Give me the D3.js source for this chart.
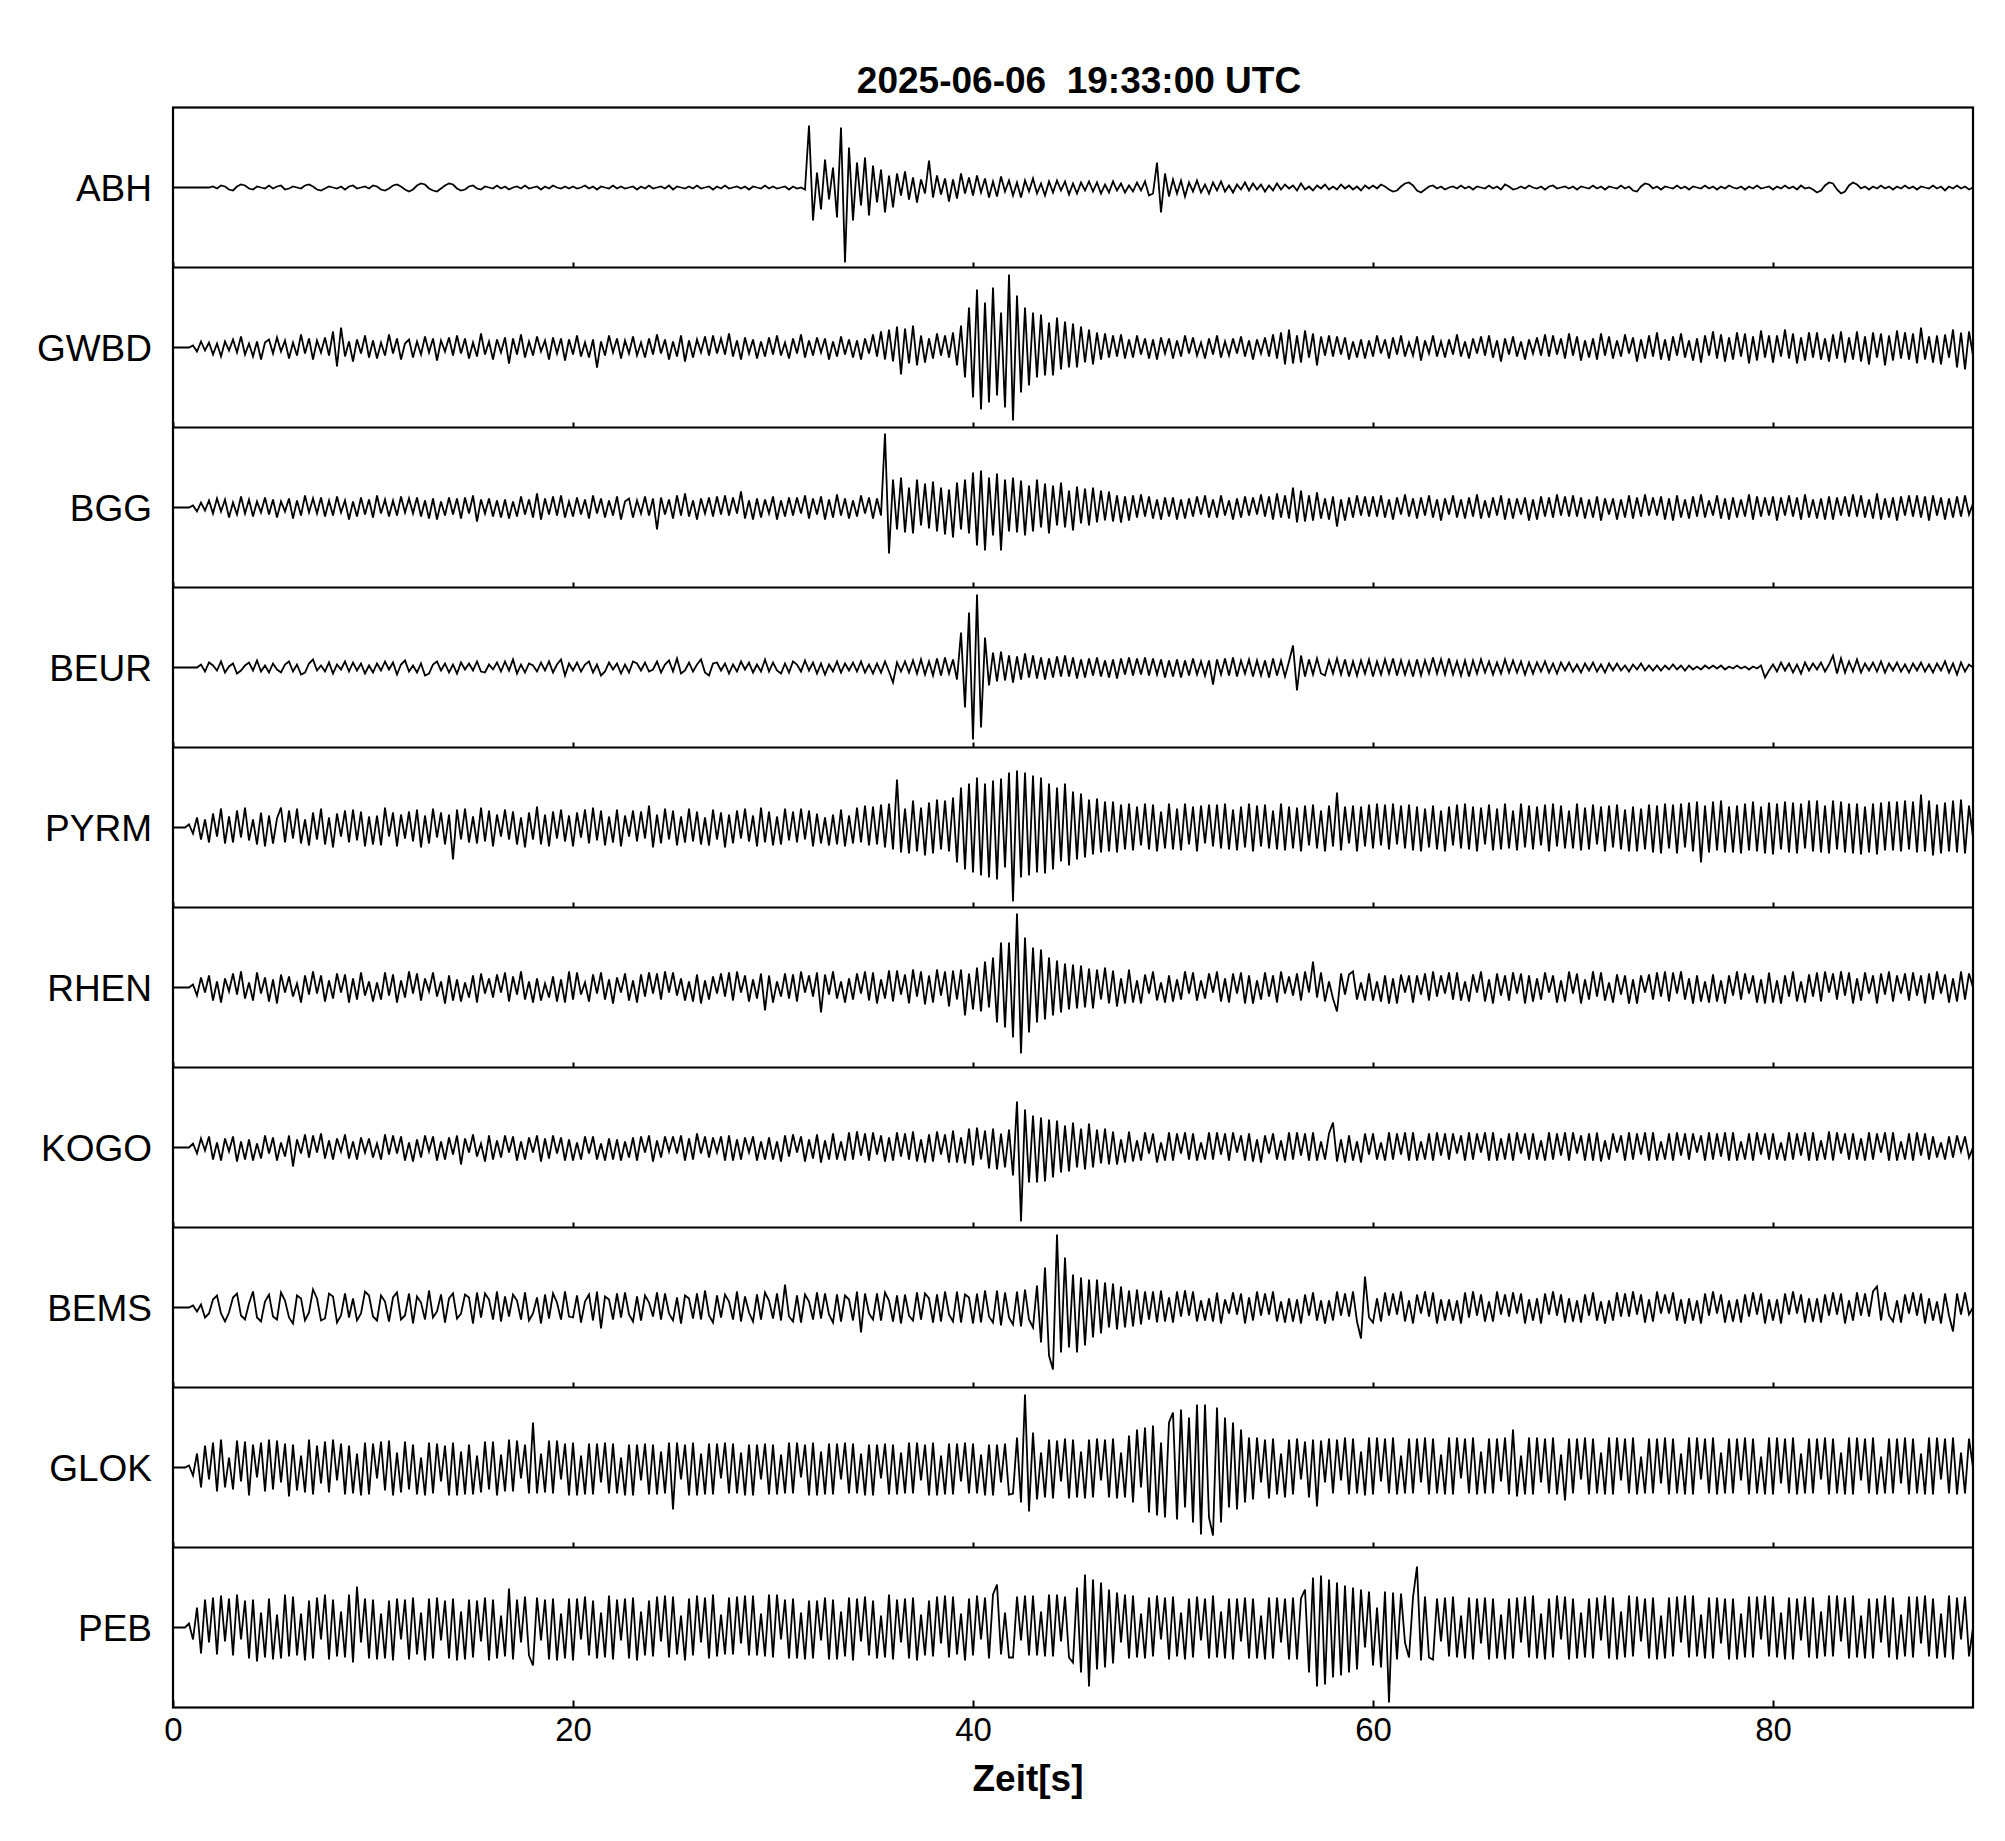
<!DOCTYPE html>
<html>
<head>
<meta charset="utf-8">
<script src="https://cdn.jsdelivr.net/npm/d3@7"></script>
<style>
body { margin: 0; background: #fff; }
text { font-family: 'Liberation Sans', Arial, Helvetica, sans-serif; }
</style>
</head>
<body>
<div id="container"></div>
<script>
const SCENE_WIDTH = 2005
const SCENE_HEIGHT = 1841
const TRACE_COLOR = 'black'

// one sample every 0.2 s, amplitudes in panel units (+-80 = panel edge)
const SAMPLE_DT = 0.2
const TITLE = '2025-06-06  19:33:00 UTC'
const X_LABEL = 'Zeit[s]'
const X_TICKS = [0, 20, 40, 60, 80]
const stations = ['ABH', 'GWBD', 'BGG', 'BEUR', 'PYRM', 'RHEN', 'KOGO', 'BEMS', 'GLOK', 'PEB']

const abh = [
  0,0,0,0,0,0,0,0,0,0, 1,-1,2,1,-2, -3,1,3,2,-1, -2,1,0,-1,2, -1,1,2,-2,-1, 1,0,-1,2,3, 1,-2,-3,-1,1, 0,-1,1,-2,1, 2,-1,0,1,-1,
  2,1,-2,-3,-1, 2,3,1,-2,-4, -2,2,4,3,-1, -3,-4,-1,2,4, 3,-1,-3,-2,1, 2,-1,-2,1,0, -1,2,-1,1,-2, 0,1,-1,2,-1, 0,1,-2,1,-1, 2,0,-1,1,-1,
  1,-1,0,2,-1, 1,-2,1,0,-1, 2,-1,1,-1,0, 1,-2,1,-1,2, -1,0,1,-1,2, -2,1,0,-1,1, -1,2,-1,0,1, -2,1,-1,2,-1, 0,1,-1,1,-2, 1,0,-1,2,-1,
  1,-1,0,1,-2, 1,-1,0,-2,62, -33,15,-22,28,-12, 20,-30,60,-75,40, -33,25,-18,30,-28, 22,-15,18,-25,12, -20,14,-8,16,-12, 10,-15,8,-6,27, -10,12,-7,9,-14, 8,-11,14,-6,10,
  -8,12,-5,9,-10, 6,-9,11,-4,7, -8,5,-10,7,-4, 9,-6,4,-8,6, -5,7,-3,6,-7, 4,-6,5,-3,6, -4,5,-6,3,-5, 6,-3,4,-5,2, -4,5,-3,6,-8, -6,25,-25,14,-9,
  8,-6,7,-9,5, -4,7,-5,3,-6, 5,-3,6,-4,2, -5,3,-2,5,-3, 4,-2,3,-4,2, -3,4,-2,3,-1, 2,-3,4,-2,1, -3,2,-1,3,-2, 1,-2,3,-1,2, -2,1,-3,2,-1,
  2,-1,3,1,-2, -4,-3,1,4,5, 2,-3,-5,-2,1, 2,-1,1,-2,0, 1,-1,2,-1,1, -2,1,0,-1,2, -1,1,-2,3,1, -2,-1,1,-1,2, 0,-1,1,-2,1, 2,-1,0,1,-1,
  1,-2,1,0,-1, 2,-1,1,-2,1, 0,-1,2,-1,1, -3,-4,1,4,3, -1,1,-2,1,0, -1,2,-1,1,-2, 1,0,-1,2,-1, 1,-2,1,-1,2, 0,-1,1,-2,1, -1,2,-1,0,1,
  -2,1,-1,2,-1, 1,-2,2,-1,0, -2,-5,-3,2,5, 4,-2,-6,-4,2, 5,3,-1,1,-2, 1,-1,2,-1,1, -2,1,-1,2,-1, 1,-2,1,0,-1, 2,-1,1,-3,1, -1,2,-1,1,-2, 0
]
const gwbd = [
  0,0,0,0,0, 2,-4,6,-3,5, -7,4,-9,6,-3, 8,-5,11,-7,4, -9,6,-12,5,8, -6,10,-4,7,-11, 5,-8,13,-6,9, -12,7,-5,10,-8, 16,-19,20,-9,6, -14,8,-6,12,-10,
  7,-11,5,-8,13, -6,9,-12,4,8, -10,6,-7,11,-5, 9,-13,7,-4,10, -8,12,-6,9,-11, 5,-9,14,-7,6, -12,8,-5,10,-16, 9,-7,13,-10,6, -8,11,-4,7,-12, 10,-6,9,-13,8,
  -7,12,-9,5,-10, 8,-20,6,-8,12, -5,9,-11,7,-6, 11,-8,5,-10,9, -7,13,-6,8,-12, 6,-9,12,-14,7, -10,8,-5,11,-8, 12,-6,9,-7,14, -9,7,-12,10,-6, 8,-11,6,-9,10,
  -7,12,-8,5,-11, 9,-6,13,-10,7, -8,10,-5,9,-12, 6,-9,11,-7,8, -10,7,-12,9,-6, 13,-9,16,-12,18, -14,21,-27,19,-16, 22,-18,12,-15,9, -11,14,-8,12,-10, 15,-18,22,-30,40,
  -50,58,-62,45,-55, 60,-48,35,-60,73, -73,52,-45,40,-38, 35,-30,33,-28,25, -28,30,-22,26,-20, 24,-20,21,-15,18, -17,15,-12,14,-10, 12,-9,13,-11,8, -10,12,-7,9,-11, 8,-12,10,-6,9,
  -11,7,-9,12,-6, 10,-8,5,-11,9, -7,12,-10,6,-8, 9,-6,11,-9,7, -12,8,-6,10,-9, 13,-11,15,-17,18, -16,12,-15,17,-10, 14,-18,11,-8,12, -9,11,-7,10,-12, 6,-10,8,-11,7,
  -9,12,-6,8,-11, 10,-7,12,-9,5, -8,11,-13,7,-6, 12,-9,6,-10,8, -7,13,-9,6,-11, 9,-6,11,-8,12, -10,7,-14,9,-7, 11,-9,6,-12,8, -6,10,-8,13,-9, 12,-7,9,-11,14,
  -8,11,-13,7,-10, 9,-12,14,-8,11, -11,7,-9,13,-6, 10,-14,8,-11,12, -9,15,-12,8,-13, 11,-8,14,-10,7, -13,9,-15,12,-8, 16,-11,13,-14,10, -12,15,-9,14,-16, 11,-13,17,-10,12,
  -15,12,-9,18,-11, 14,-16,10,-13,15, -10,15,-12,9,-14, 13,-11,16,-15,10, -12,16,-14,11,-17, 15,-10,14,-18,12, -13,17,-11,15,-12, 14,-16,20,-12,11, -15,12,-17,13,-10, 18,-20,15,-22,16, -8
]
const bgg = [
  0,0,0,0,0, 2,-4,5,-3,7, -6,9,-4,8,-10, 5,-7,11,-6,8, -9,6,-5,10,-7, 8,-10,6,-4,9, -11,7,-8,12,-5, 9,-6,10,-9,7, -8,11,-5,7,-12, 6,-9,10,-7,8,
  -10,12,-6,8,-9, 7,-8,11,-5,9, -6,10,-9,7,-11, 9,-12,6,-8,10, -7,9,-11,10,-6, 12,-14,8,-6,9, -9,7,-10,8,-11, 6,-9,11,-7,8, -10,14,-12,9,-7, 11,-8,12,-10,6,
  -9,10,-7,8,-11, 12,-6,9,-10,7, -8,11,-12,6,9, -10,7,-6,11,-8, 9,-22,10,-7,8, -11,12,-8,14,-9, 7,-12,9,-6,10, -9,11,-7,12,-8, 10,-6,16,-11,7, -12,9,-10,8,-6,
  11,-12,7,-9,10, -8,10,-6,12,-11, 9,-7,11,-12,8, -10,13,-8,9,-11, 7,-9,12,-6,10, -11,9,-8,74,-46, 28,-22,30,-25,20, -26,28,-18,24,-21, 26,-24,20,-27,18, -30,25,-22,28,-26,
  35,-38,37,-43,30, -28,34,-43,28,-24, 30,-25,27,-28,22, -24,28,-20,24,-26, 22,-18,25,-20,17, -23,21,-16,19,-18, 20,-15,17,-13,16, -14,12,-15,11,-13, 12,-10,13,-9,11, -11,8,-12,10,-9,
  10,-12,8,-11,9, -9,11,-7,12,-10, 8,-10,12,-8,7, -12,9,-10,11,-8, 10,-7,13,-9,11, -12,14,-10,12,-11, 20,-15,17,-14,12, -13,15,-11,9,-12, 11,-19,8,-13,10, -10,12,-8,11,-9,
  11,-9,12,-10,8, -12,10,-7,13,-9, 9,-11,10,-8,12, -10,8,-13,9,-7, 12,-10,8,-11,10, -9,13,-11,7,-10, 10,-8,12,-12,9, -11,9,-7,10,-13, 8,-12,11,-9,10, -10,13,-8,11,-9,
  12,-9,10,-11,8, -10,11,-13,9,-7, 9,-12,8,-10,12, -11,10,-9,13,-8, 10,-8,11,-12,9, -13,12,-10,8,-11, 11,-9,13,-10,7, -8,12,-11,9,-12, 10,-10,8,-9,13, -12,11,-9,10,-8,
  11,-13,10,-8,12, -9,10,-12,13,-10, 8,-11,9,-12,11, -12,10,-8,11,-9, 13,-9,12,-10,8, -11,14,-12,9,-10, 10,-13,11,-8,12, -9,12,-10,11,-13, 12,-8,10,-12,9, -10,11,-9,12,-7, 4
]
const beur = [
  0,0,0,0,0, 0,0,3,-4,5, 2,-3,6,-5,1, 4,-6,-3,2,5, -3,7,-4,2,-5, 4,-2,-5,3,6, -4,3,-7,-5,4, 8,-3,2,-4,5, -6,3,-2,6,-4, 5,-3,4,-6,2,
  -5,4,-3,6,-2, 5,-7,3,7,-4, 2,-5,4,-8,-6, 3,6,-3,4,-5, 3,-6,5,-2,4, -3,6,-4,-5,3, -2,5,-4,6,-3, 8,-6,3,-5,4, 2,-4,5,-3,6, -5,3,8,-8,4,
  -3,5,-4,3,6, -5,3,-8,-4,5, -2,4,-6,3,-5, 6,4,-3,5,-4, -2,6,-5,3,7, -4,9,-6,-3,5, -4,3,8,-5,-8, 4,5,-3,4,-6, 3,-4,6,-2,5, -5,3,-4,8,-4,
  5,-3,-6,4,-5, 6,3,-4,7,-3, 5,-6,4,-7,3, -4,6,-5,4,-3, 5,-4,6,-5,3, -6,4,-5,6,-4, -15,5,-4,6,-5, 7,-6,8,-7,6, -8,9,-8,10,-6, 8,-12,35,-40,55,
  -72,73,-60,30,-18, 15,-14,16,-13,12, -15,11,-12,14,-10, 12,-11,10,-12,9, -10,11,-9,12,-9, 10,-11,8,-10,9, -8,10,-9,7,-10, 8,-11,9,-7,10, -8,9,-7,10,-8, 9,-7,8,-10,7,
  -9,8,-10,7,-8, 9,-7,6,-8,7, -17,8,-7,9,-8, 10,-9,7,-6,8, -9,7,-8,7,-10, 9,-8,7,-9,6, 22,-23,12,-9,8, -7,9,-6,-8,7, -6,9,-7,8,-9, 6,-8,7,-6,8,
  -9,6,-7,8,-6, 9,-8,7,-7,6, -9,8,-8,7,-6, 10,-6,8,-7,9, -7,6,-8,7,-9, 7,-6,8,-5,6, -7,5,-6,8,-5, 7,-5,6,-7,5, -6,5,-4,6,-5, 4,-6,5,-3,5,
  -4,3,-5,4,-3, 5,-4,3,-5,4, -3,4,-3,2,-4, 3,-2,4,-3,2, -3,2,-3,2,-2, 3,-2,2,-3,2, -2,1,-2,2,-1, 2,-1,2,-2,1, -1,2,-1,1,-2, 1,-1,2,-10,-3,
  3,-4,5,-3,4, -5,3,-6,5,-3, 4,-2,5,-4,3, 12,-6,9,-5,6, -4,8,-5,4,-3, 5,-4,6,-5,4, -3,5,-4,3,-5, 4,-3,5,-4,3, -5,4,-3,6,-5, 4,-7,5,-4,3, 0
]
const pyrm = [
  0,0,0,0,3, -6,10,-12,8,-15, 14,-9,19,-16,11, -15,17,-10,20,-13, 8,-17,15,-19,12, -16,9,20,-15,17, -11,19,-16,8,-18, 15,-12,19,-17,10, -20,14,-9,17,-15, 18,-13,16,-19,11,
  -17,12,-18,20,-9, 15,-19,13,-11,16, -14,18,-20,12,-16, 19,-10,15,-17,13, -32,18,-12,19,-15, 11,-16,20,-14,17, -19,13,-9,18,-12, 16,-17,10,-20,15, -12,21,-17,13,-19, 16,-11,18,-14,12,
  -19,15,-10,18,-16, 20,-13,17,-18,11, -15,18,-19,12,-9, 17,-14,16,-11,22, -20,13,-16,19,-12, 17,-18,11,-15,19, -14,16,-17,10,-18, 18,-12,15,-20,13, -16,17,-11,19,-14, 12,-19,20,-15,16,
  -18,11,-17,19,-13, 16,-15,19,-12,17, -19,14,-16,10,-18, 13,-17,18,-19,12, -16,20,-15,22,-18, 21,-17,23,-20,24, -22,48,-25,19,-26, 27,-24,20,-28,25, -26,28,-22,27,-24, 30,-35,40,-42,44,
  -45,50,-48,44,-50, 47,-52,49,-40,55, -74,57,-50,55,-48, 52,-45,50,-46,44, -42,40,-34,44,-38, 36,-32,34,-30,28, -27,29,-25,26,-24, 26,-25,23,-22,24, -23,21,-18,24,-22, 23,-24,16,-21,24,
  -22,19,-23,24,-17, 21,-24,22,-16,23, -19,23,-21,24,-22, 18,-23,21,-20,24, -24,22,-19,23,-21, 17,-22,24,-23,21, -21,20,-24,22,-18, 23,-21,17,-24,22, -19,35,-23,21,-16, 22,-24,21,-19,23,
  -21,24,-18,23,-22, 24,-17,22,-21,23, -23,21,-24,19,-20, 22,-22,17,-24,21, -18,23,-21,24,-22, 21,-24,20,-17,23, -23,19,-22,24,-21, 17,-23,24,-20,22, -22,21,-18,23,-24, 24,-19,22,-21,17,
  -21,24,-23,20,-22, 23,-17,21,-24,22, -20,23,-22,18,-24, 21,-24,19,-22,23, -25,22,-26,24,-21, 23,-26,24,-20,25, -24,26,-35,22,-25, 26,-23,27,-25,21, -25,22,-26,24,-23, 26,-24,21,-26,25,
  -27,24,-22,26,-25, 25,-26,24,-21,27, -24,27,-25,22,-26, 27,-22,26,-25,24, -26,24,-27,21,-25, 24,-27,25,-23,26, -23,26,-24,27,-22, 26,-25,33,-24,27, -28,23,-26,25,-24, 27,-25,28,-26,22, -10
]
const rhen = [
  0,0,0,0,0, 3,-8,10,-5,12, -13,6,-15,9,-4, 14,-7,16,-11,5, -13,15,-6,10,-14, 8,-16,13,-5,11, -9,4,-15,12,-7, 16,-6,12,-14,7, -11,14,-5,13,-15, 9,-12,15,-8,6,
  -14,5,-12,15,-8, 13,-15,7,-10,16, -6,14,-13,9,-4, 15,-9,6,-16,12, -13,8,-14,5,-10, 12,-15,14,-6,9, -10,13,-5,15,-14, 11,-7,16,-12,6, -15,9,-13,4,-10, 11,-14,8,-15,16,
  -12,15,-7,5,-14, 13,-6,15,-12,8, -16,10,-5,14,-13, 7,-15,13,-9,15, -6,14,-12,16,-5, 15,-8,9,-13,6, -14,13,-16,7,-12, 11,-6,14,-9,15, -13,16,-5,12,-14, 8,-11,14,-23,12,
  -15,6,-9,14,-11, 13,-14,16,-5,12, -9,15,-25,13,-7, 16,-11,6,-15,9, -12,14,-6,16,-13, 15,-16,8,-11,17, -14,17,-7,13,-16, 18,-9,16,-17,12, -15,18,-8,16,-19, 17,-12,18,-28,14,
  -22,20,-24,26,-20, 30,-35,45,-40,45, -50,74,-66,50,-45, 40,-35,38,-32,30, -28,27,-25,24,-22, 23,-21,22,-20,19, -21,18,-12,20,-16, 17,-19,9,-16,18, -15,7,-16,13,-6, 16,-13,5,-15,12,
  -14,8,-12,16,-6, 15,-13,7,-11,14, -5,16,-14,9,-15, 14,-6,15,-16,12, -16,7,-12,15,-9, 12,-15,16,-6,11, -8,14,-13,16,-5, 26,-10,15,-14,6, -11,-24,14,-7,13, 16,-12,5,-13,14,
  -13,6,-14,12,-16, 9,-16,13,-5,12, -15,12,-7,14,-13, 16,-9,12,-6,15, -12,15,-13,6,-14, 13,-5,16,-14,8, -16,14,-8,12,-13, 15,-6,14,-16,12, -14,9,-12,15,-5, 12,-15,7,-14,16,
  -6,14,-16,8,-12, 16,-9,15,-13,5, -15,13,-7,12,-16, 8,-16,12,-5,13, -12,15,-9,16,-14, 15,-6,16,-12,9, -16,12,-14,6,-15, 13,-14,7,-16,12, -8,16,-12,14,-6, 12,-15,8,-16,15,
  -15,7,-16,12,-9, 16,-14,6,-15,13, -9,15,-14,16,-5, 14,-12,16,-8,15, -16,9,-13,15,-6, 12,-16,14,-7,16, -14,12,-6,14,-13, 15,-8,12,-16,14, -12,16,-6,13,-15, 9,-14,16,-12,14, 0
]
const kogo = [
  0,0,0,0,0, 4,-6,9,-3,11, -12,5,-13,9,-4, 11,-14,6,-12,8, -13,4,-11,12,-6, 10,-13,5,-9,12, -19,8,-6,13,-10, 12,-5,14,-11,7, -12,9,-4,13,-11, 6,-12,10,-5,9,
  -10,4,-12,13,-7, 12,-6,11,-13,5, -14,8,-10,12,-4, 11,-13,6,-12,10, -7,12,-17,9,-5, 13,-9,4,-14,12, -12,7,-10,12,-5, 11,-13,6,-12,10, -5,12,-14,9,-11, 12,-6,10,-13,8,
  -13,5,-12,11,-6, 11,-12,4,-13,9, -12,8,-13,6,-10, 10,-13,11,-5,12, -14,7,-10,11,-4, 11,-6,12,-13,9, -12,14,-6,11,-10, 10,-5,11,-13,12, -13,8,-12,10,-5, 11,-13,6,-12,10,
  -12,6,-14,12,-9, 13,-5,11,-14,8, -11,13,-15,7,-12, 14,-12,6,-13,15, -12,16,-8,14,-13, 15,-7,12,-14,10, -13,15,-9,14,-12, 16,-14,8,-15,13, -14,16,-7,13,-15, 17,-15,10,-16,19,
  -18,20,-12,17,-21, 19,-22,14,-20,18, -28,46,-74,38,-35, 32,-35,30,-34,28, -30,27,-25,22,-24, 25,-20,19,-22,24, -20,18,-16,19,-17, 16,-17,8,-15,16, -14,7,-13,15,-6, 14,-15,5,-13,15,
  -13,14,-6,15,-12, 14,-13,5,-12,15, -12,15,-7,14,-13, 15,-5,12,-13,14, -14,8,-15,12,-6, 14,-12,7,-13,15, -12,15,-8,14,-13, 15,-13,6,-12,14, 25,-14,8,-15,12, -13,6,-15,14,-7,
  14,-12,5,-13,15, -12,14,-7,15,-13, 15,-13,6,-12,14, -13,15,-8,14,-12, 14,-6,12,-13,15, -12,14,-5,15,-13, 15,-13,9,-12,14, -13,15,-6,14,-12, 14,-12,7,-13,15, -12,14,-8,15,-13,
  15,-6,12,-13,14, -13,15,-14,7,-12, 14,-5,12,-13,15, -12,14,-7,15,-13, 15,-13,6,-12,14, -13,15,-8,14,-12, 14,-5,12,-13,15, -12,14,-9,15,-13, 15,-13,6,-12,14, -13,15,-7,14,-12,
  14,-12,5,-13,15, -12,14,-8,15,-13, 15,-13,7,-12,16, -13,15,-6,14,-12, 14,-12,9,-13,15, -12,14,-5,15,-13, 15,-13,6,-12,14, -13,15,-8,14,-12, 11,-10,5,-12,11, -10,12,-4,11,-10, 0
]
const bems = [
  0,0,0,0,0, 2,-4,3,-10,-6, 8,12,-6,-14,-5, 10,14,-8,-12,4, 16,-10,-14,6,13, -9,-12,15,7,-10, -16,12,9,-13,-5, 18,9,-13,-11,14, 11,-15,-8,14,-10, 9,-13,-6,16,12,
  -9,-13,12,6,-14, 10,15,-12,-8,14, -16,11,5,-12,17, -10,-4,13,-15,9, 14,-11,-6,13,10, -16,15,-10,14,8, -12,16,-14,11,-9, 13,7,-12,15,-13, -6,10,-16,13,-11, 14,5,-12,16,-9,
  -10,12,-15,6,13, -13,16,-21,11,8, -12,14,-10,15,-7, -14,11,-13,12,5, -9,15,-12,14,-6, -13,10,-16,12,9, -11,14,-12,17,-8, -15,12,-10,13,6, -12,16,-14,11,-5, -14,13,-12,15,7,
  -11,14,-13,23,-9, -14,12,-15,13,6, -12,15,-11,14,-7, -15,13,-14,12,8, -13,16,-25,14,-6, -12,14,-13,15,7, -14,12,-16,13,-8, -13,15,-12,14,9, -15,13,-14,16,-7, -14,16,-15,13,10,
  -16,14,-15,17,-9, -15,17,-18,15,-10, -17,16,-19,18,-12, -20,22,-35,40,-48, -62,73,-45,50,-40, 33,-45,30,-38,28, -30,28,-26,25,-20, 24,-22,21,-20,17, -19,18,-17,16,-12, 16,-15,17,-14,10,
  -15,16,-9,17,-8, 16,-14,7,-13,9, -14,15,-16,8,-6, 15,-7,14,-16,10, -13,16,-8,14,-7, 16,-14,6,-15,9, -14,8,-16,13,-8, 15,-13,7,-16,7, -13,16,-8,14,-9, 16,-14,-31,31,-10,
  -15,9,-14,15,-8, 14,-7,16,-14,7, -16,13,-6,16,-9, 15,-16,8,-13,8, -13,7,-16,15,-10, 16,-8,13,-14,6, -14,16,-7,13,-9, 15,-6,14,-16,8, -13,9,-16,14,-7, 16,-8,13,-15,9,
  -14,7,-15,13,-8, 15,-13,6,-16,7, -13,15,-9,14,-9, 16,-7,13,-15,8, -14,16,-6,13,-6, 15,-13,8,-16,9, -13,7,-16,14,-8, 16,-6,13,-15,7, -14,8,-15,13,-9, 15,-7,14,-16,8,
  -13,8,-16,14,-7, 16,-6,13,-15,9, -14,9,-15,13,-8, 15,-7,14,-16,7, -13,15,-8,14,-9, 16,21,-13,15,-8, -14,7,-15,13,-6, 15,-8,14,-16,9, -13,6,-16,14,-8, -24,14,-7,15,-7, 0
]
const glok = [
  0,0,0,0,2, -8,14,-20,22,-12, 25,-24,28,-20,10, -22,27,-14,26,-28, 23,-10,25,-24,28, -22,27,-15,24,-29, 23,-23,12,-25,28, -27,22,-16,26,-25, 28,-13,24,-27,22, -26,14,-28,25,-27,
  24,-11,26,-23,27, -28,15,-25,26,-22, 23,-27,10,-28,25, -26,24,-14,22,-28, 25,-28,16,-27,23, -27,12,-25,26,-22, 26,-28,13,-24,28, -24,27,-11,23,-26, 45,-26,14,-25,27, -26,27,-12,24,-28,
  25,-28,12,-27,24, -27,24,-15,25,-26, 24,-26,10,-28,23, -28,23,-13,24,-27, 23,-27,16,-26,25, -42,25,-12,23,-28, 25,-28,14,-27,24, -27,24,-11,25,-26, 24,-26,15,-28,23, -28,23,-12,24,-27,
  23,-27,13,-26,25, -26,25,-10,23,-28, 25,-28,16,-27,24, -27,24,-12,25,-26, 24,-26,14,-28,23, -28,23,-11,24,-27, 23,-27,15,-26,25, -26,25,-13,23,-28, 25,-28,12,-27,24, -27,24,-14,25,-26,
  24,-26,13,-28,23, -28,23,-15,24,-27, -26,30,-35,73,-44, 35,-32,15,-30,28, -31,27,-14,29,-31, 28,-30,16,-31,28, -30,29,-13,28,-30, 29,-31,15,-30,32, -35,38,-20,40,-45, 42,-48,25,-50,45,
  55,-52,58,-40,50, -55,63,-67,63,-50, -68,60,-55,50,-40, 45,-42,38,-35,30, -32,30,-15,28,-31, 29,-27,14,-30,28, -27,29,-12,26,-30, 28,-39,27,-15,29, -26,28,-13,30,-27, 29,-26,16,-28,30,
  -27,30,-14,29,-26, 30,-27,12,-26,29, -26,29,-15,30,-27, 29,-26,13,-27,30, -27,30,-11,29,-26, 30,-27,16,-26,29, -26,29,-14,30,-27, 38,-29,12,-27,30, -27,30,-15,29,-26, 30,-27,13,-33,29,
  -26,29,-12,30,-27, 29,-26,15,-27,30, -27,30,-13,29,-26, 30,-27,11,-26,29, -26,29,-16,30,-27, 29,-26,14,-27,30, -27,30,-12,29,-26, 30,-27,15,-26,29, -26,29,-13,30,-27, 29,-26,11,-27,30,
  -27,30,-16,29,-26, 30,-27,14,-26,29, -26,29,-12,30,-27, 29,-26,15,-27,30, -27,30,-13,29,-26, 30,-27,11,-26,29, -26,29,-16,30,-27, 29,-26,14,-27,30, -27,30,-12,29,-26, 30,-27,15,-26,29, 0
]
const peb = [
  0,0,0,0,4, -12,20,-26,28,-15, 30,-27,32,-14,29, -28,33,-12,27,-31, 28,-34,15,-30,29, -32,13,-31,33,-29, 31,-28,14,-33,27, -31,30,-12,33,-32, 28,-29,16,-30,33, -35,41,-15,29,-31,
  28,-32,14,-31,27, -33,29,-12,28,-32, 30,-27,15,-33,29, -31,30,-13,27,-31, 29,-33,16,-32,28, -30,27,-14,30,-33, 28,-31,12,-29,39, -32,28,-15,31,-28, -38,30,-13,28,-32, 29,-33,14,-31,29,
  -33,29,-12,31,-28, 27,-31,15,-30,32, -32,28,-13,29,-31, 30,-33,16,-28,27, -29,31,-14,32,-30, 31,-27,12,-33,29, -28,32,-15,30,-31, 33,-29,13,-27,30, -27,31,-16,32,-28, 32,-28,14,-29,33,
  -30,33,-12,28,-31, 29,-31,15,-32,27, -31,27,-13,30,-32, 28,-32,16,-29,30, -33,29,-14,31,-28, 27,-31,12,-30,33, -32,28,-15,29,-31, 30,-33,13,-28,27, -29,31,-16,32,-30, 31,-27,14,-33,29,
  -28,32,-12,30,-31, 33,43,-27,15,-30, -30,31,-13,32,-28, 32,-28,16,-29,33, -29,33,-14,31,-30, -35,40,-45,53,-59, 48,-42,45,-40,38, -36,35,-15,33,-31, 32,-30,14,-31,30, -29,32,-12,30,-32,
  31,-29,15,-32,29, -30,31,-13,29,-31, 32,-30,16,-31,29, -32,29,-14,30,-31, 29,-31,12,-32,30, -31,30,-15,29,-32, 30,-32,29,38,-45, 50,-59,52,-57,48, -50,45,-48,42,-45, 40,-42,38,-20,36,
  -38,20,-40,36,-75, 35,-32,34,-15,-30, 30,61,-33,31,-30, -32,29,-14,30,-29, 31,-30,12,-31,30, -32,29,-16,30,-32, 29,-31,13,-32,29, -31,30,-15,31,-30, 32,-31,14,-32,29, -30,32,-12,31,-32,
  29,-31,15,-30,29, -31,30,-13,32,-31, 30,-32,16,-30,32, -29,31,-14,29,-31, 30,-32,12,-31,30, -29,31,-15,32,-30, 32,-29,13,-31,30, -31,30,-16,29,-32, 29,-32,14,-30,31, -30,31,-12,32,-29,
  31,-30,15,-32,30, -32,29,-13,31,-30, 30,-31,16,-29,32, -29,32,-14,30,-31, 32,-30,12,-31,29, -31,29,-15,32,-30, 30,-32,13,-29,31, -30,31,-16,32,-29, 29,-31,14,-30,32, -32,30,-12,31,-29, 0
]
const traces = [abh, gwbd, bgg, beur, pyrm, rhen, kogo, bems, glok, peb]

var svg = d3.select('#container').append('svg')
    .attr('width', SCENE_WIDTH)
    .attr('height', SCENE_HEIGHT)

var x = d3.scaleLinear().domain([0, 90]).range([173, 1973])
var band = d3.scaleBand().domain(stations).range([107.5, 1707.5])
var plotTop = band.range()[0], plotBottom = band.range()[1]

svg.append('defs').append('clipPath').attr('id', 'plotclip')
    .append('rect')
    .attr('x', x(0)).attr('y', plotTop)
    .attr('width', x(90) - x(0)).attr('height', plotBottom - plotTop)

stations.forEach(function(name, i) {
    var top = band(name)
    var h = band.bandwidth()
    var y = d3.scaleLinear().domain([-80, 80]).range([top + h, top])
    var line = d3.line()
        .x(function(d, j) { return x(j * SAMPLE_DT) })
        .y(function(d) { return y(d) })

    svg.append('path')
        .datum(traces[i])
        .attr('d', line)
        .attr('fill', 'none')
        .attr('stroke', TRACE_COLOR)
        .attr('stroke-width', 1.8)
        .attr('clip-path', 'url(#plotclip)')

    svg.append('text')
        .attr('x', 152)
        .attr('y', top + h / 2)
        .attr('dy', '0.36em')
        .attr('text-anchor', 'end')
        .style('font-size', '37px')
        .text(name)

    // small inward ticks on the bottom edge of every panel
    if (i < stations.length - 1) {
        var g = svg.append('g').attr('transform', 'translate(0,' + (top + h) + ')')
            .call(d3.axisBottom(x).tickValues(X_TICKS).tickSizeInner(-5).tickSizeOuter(0).tickFormat(''))
        g.select('.domain').remove()
        g.selectAll('line').attr('stroke-width', 2)
    }
})

// panel separators and frame
stations.slice(1).forEach(function(name) {
    svg.append('line')
        .attr('x1', x(0)).attr('x2', x(90))
        .attr('y1', band(name)).attr('y2', band(name))
        .attr('stroke', 'black').attr('stroke-width', 2.2)
})
svg.append('rect')
    .attr('x', x(0)).attr('y', plotTop)
    .attr('width', x(90) - x(0)).attr('height', plotBottom - plotTop)
    .attr('fill', 'none').attr('stroke', 'black').attr('stroke-width', 2.2)

var xAxis = svg.append('g')
    .attr('transform', 'translate(0,' + plotBottom + ')')
    .call(d3.axisBottom(x).tickValues(X_TICKS).tickSizeInner(-7).tickSizeOuter(0).tickPadding(10))
xAxis.select('.domain').remove()
xAxis.selectAll('line').attr('stroke-width', 2)
xAxis.selectAll('text')
    .style('font-size', '33px')
    .style('font-family', "'Liberation Sans', Arial, sans-serif")
    .attr('fill', 'black')

svg.append('text')
    .attr('x', 1079)
    .attr('y', 93)
    .attr('text-anchor', 'middle')
    .style('font-size', '37px')
    .style('font-weight', 'bold')
    .style('white-space', 'pre')
    .text(TITLE)

svg.append('text')
    .attr('x', 1028)
    .attr('y', 1791)
    .attr('text-anchor', 'middle')
    .style('font-size', '37px')
    .style('font-weight', 'bold')
    .text(X_LABEL)
</script>
</body>
</html>
